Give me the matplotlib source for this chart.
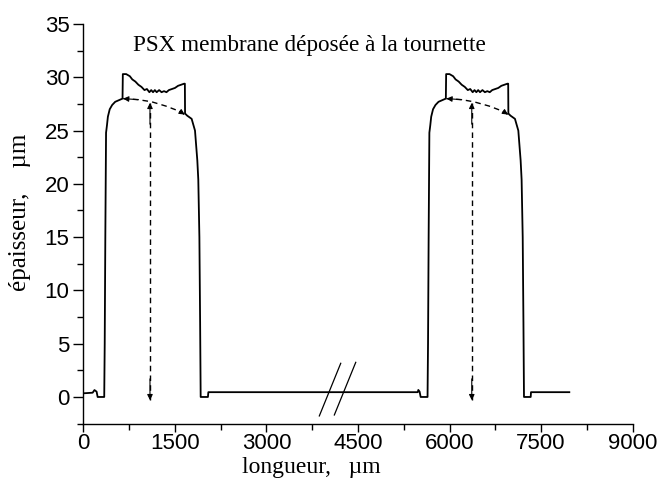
import numpy as np
import matplotlib
matplotlib.use("Agg")
import matplotlib.pyplot as plt

SANS = ["Liberation Sans", "DejaVu Sans"]
SERIF = ["Liberation Serif", "DejaVu Serif"]

# ---- profilometer trace (um, um) ----
prof_x = [15, 150, 180, 215, 232, 340, 348, 358, 370, 385, 400, 430, 470, 520, 600, 640,
          645, 700, 760, 800, 850, 900, 950, 1000, 1040, 1080, 1110, 1140, 1170, 1200,
          1240, 1280, 1320, 1360, 1400, 1450, 1500, 1550, 1600, 1650, 1662,
          1665, 1700, 1773, 1828, 1866, 1882, 1900, 1912, 1921, 2040, 2047,
          3000, 4000, 5000, 5480, 5489, 5510, 5527, 5640,
          5648, 5658, 5670, 5685, 5700, 5730, 5770, 5820, 5900, 5940,
          5945, 6000, 6060, 6100, 6150, 6200, 6250, 6300, 6340, 6380, 6410, 6440, 6470, 6500,
          6540, 6580, 6620, 6660, 6700, 6750, 6800, 6850, 6900, 6950, 6962,
          6965, 7000, 7073, 7128, 7166, 7182, 7200, 7212, 7221, 7331, 7336, 7964]
prof_y = [0.35, 0.4, 0.65, 0.5, 0.0, 0.0, 5.0, 15.0, 24.8, 25.5, 26.3, 27.0, 27.4, 27.7, 27.9, 28.0,
          30.3, 30.3, 30.1, 29.8, 29.6, 29.3, 29.1, 28.8, 28.9, 28.6, 28.8, 28.6, 28.8, 28.6,
          28.8, 28.6, 28.7, 28.6, 28.8, 28.9, 29.0, 29.2, 29.3, 29.4, 29.4,
          26.6, 26.4, 26.1, 25.0, 22.2, 20.4, 15.0, 7.0, 0.0, 0.0, 0.45,
          0.45, 0.45, 0.45, 0.45, 0.66, 0.5, 0.0, 0.0,
          5.0, 15.0, 24.8, 25.5, 26.3, 27.0, 27.4, 27.7, 27.9, 28.0,
          30.3, 30.3, 30.1, 29.8, 29.6, 29.3, 29.1, 28.8, 28.9, 28.6, 28.8, 28.6, 28.8, 28.6,
          28.8, 28.6, 28.7, 28.6, 28.8, 28.9, 29.0, 29.2, 29.3, 29.4, 29.4,
          26.6, 26.4, 26.1, 25.0, 22.2, 20.4, 15.0, 7.0, 0.0, 0.0, 0.45, 0.45]

# dashed arcs under the crown of each step
arc1_x = [650, 900, 1118, 1350, 1580, 1660]
arc1_y = [28.0, 27.9, 27.7, 27.3, 26.8, 26.5]
arc2_x = [5950, 6200, 6400, 6650, 6880, 6960]
arc2_y = [28.0, 27.9, 27.7, 27.3, 26.8, 26.5]

# vertical thickness arrows
arrow_x = [1090, 6365]
arrow_top = [27.6, 27.6]
arrow_bot = -0.3

# axis-break marks
brk = [((3866, -1.78), (4217, 3.16)), ((4112, -1.69), (4463, 3.25))]

fig = plt.figure(figsize=(6.61, 4.92), dpi=100)
ax = fig.add_axes([0.1263, 0.139, 0.8306, 0.8122])

ax.plot(prof_x, prof_y, color="black", lw=1.3)

head = dict(arrowstyle="-|>", color="black", lw=0.8, mutation_scale=8,
            shrinkA=0, shrinkB=0)
for ax_, ay_ in ((arc1_x, arc1_y), (arc2_x, arc2_y)):
    ax.plot(ax_, ay_, color="black", lw=1.0, dashes=(4, 3))
    ax.annotate("", xy=(ax_[0], ay_[0]), xytext=(ax_[1], ay_[1]), arrowprops=head)
    ax.annotate("", xy=(ax_[-1], ay_[-1]), xytext=(ax_[-2], ay_[-2]), arrowprops=head)
for xa, yt in zip(arrow_x, arrow_top):
    ax.plot([xa, xa], [arrow_bot, yt], color="black", lw=1.0, dashes=(4, 3))
    ax.annotate("", xy=(xa, yt), xytext=(xa, yt - 2), arrowprops=head)
    ax.annotate("", xy=(xa, arrow_bot), xytext=(xa, arrow_bot + 2), arrowprops=head)

for (x0, y0), (x1, y1) in brk:
    ax.plot([x0, x1], [y0, y1], color="black", lw=0.9)

ax.text(811, 33.0, "PSX membrane déposée à la tournette", family=SERIF,
        fontsize=16.7, va="center", ha="left")

ax.set_xlim(0, 9000)
ax.set_ylim(-2.5, 35)
ax.set_xticks(np.arange(0, 9001, 1500))
ax.set_xticks(np.arange(0, 9001, 750), minor=True)
ax.set_yticks(np.arange(0, 36, 5))
ax.set_yticks(np.arange(-2.5, 36, 2.5), minor=True)
for s in ("top", "right"):
    ax.spines[s].set_visible(False)
for s in ("left", "bottom"):
    ax.spines[s].set_linewidth(1.0)
ax.tick_params(which="major", direction="out", length=7, width=1.0, labelsize=16, pad=3)
ax.tick_params(which="minor", direction="out", length=4, width=1.0)
ax.tick_params(axis="x", which="major", length=6, pad=1)
for lab in ax.get_xticklabels() + ax.get_yticklabels():
    lab.set_family(SANS)

ax.set_xlabel("longueur,   µm", family=SERIF, fontsize=17)
ax.set_ylabel("épaisseur,    µm", family=SERIF, fontsize=18)
ax.xaxis.set_label_coords(0.415, -0.083)
ax.yaxis.set_label_coords(-0.095, 0.53)

fig.savefig("out.png", dpi=100)
